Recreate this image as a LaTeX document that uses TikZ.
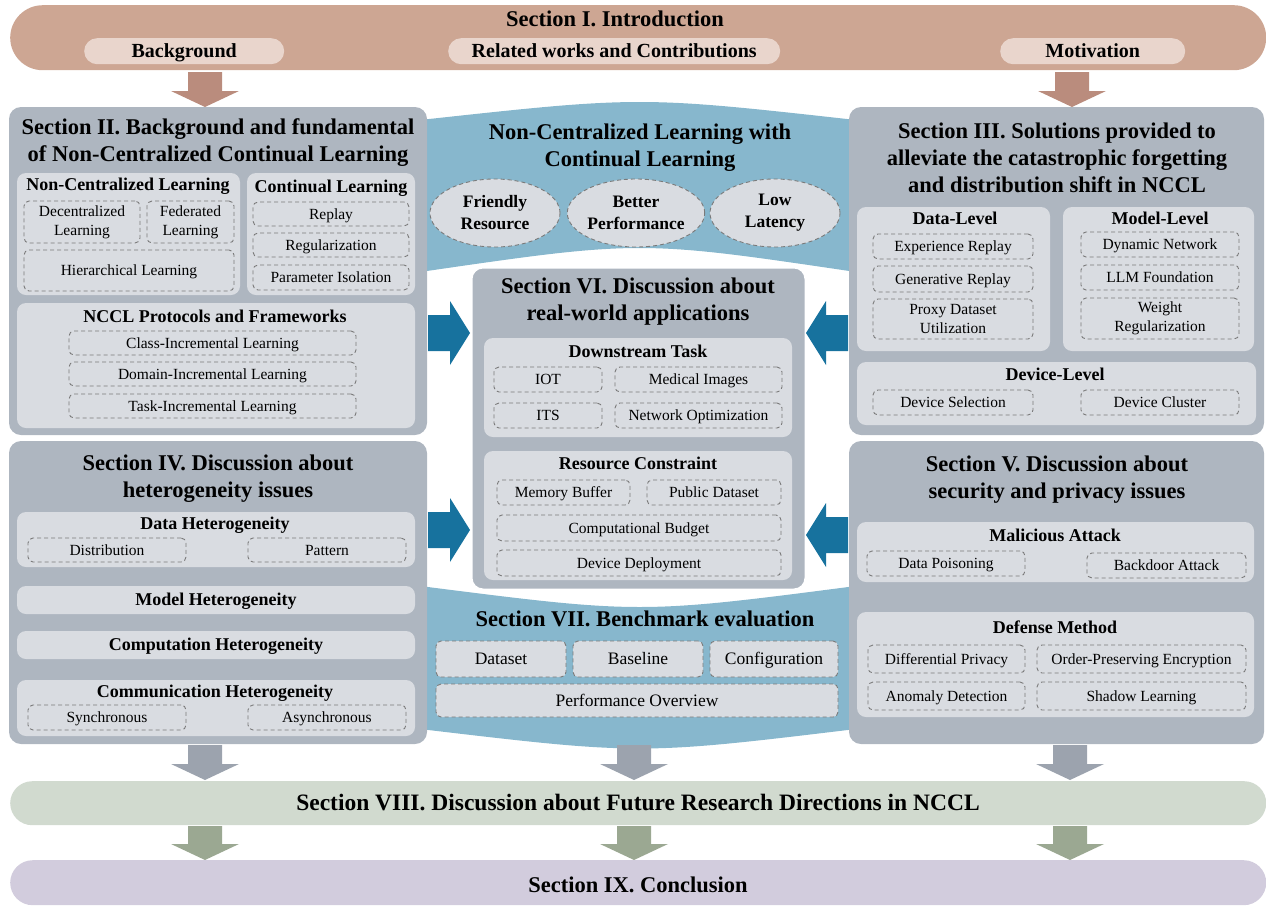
\documentclass[tikz,border=0pt]{standalone}
\usepackage{fontspec}
\setmainfont{Liberation Serif}
\usetikzlibrary{positioning,shapes.geometric}

\definecolor{introbrown}{HTML}{CDA693}
\definecolor{pillbrown}{HTML}{E9D5CC}
\definecolor{arrbrown}{HTML}{BA8C7D}
\definecolor{secgrey}{HTML}{AEB6C0}
\definecolor{boxlight}{HTML}{D9DCE1}
\definecolor{bandblue}{HTML}{87B7CD}
\definecolor{arrblue}{HTML}{17729E}
\definecolor{arrgrey}{HTML}{9CA3AE}
\definecolor{futgreen}{HTML}{D1DACF}
\definecolor{arrgreen}{HTML}{9BA892}
\definecolor{conclilac}{HTML}{D2CCDD}
\definecolor{dashgrey}{HTML}{7A7A7A}

% block arrows: down (x, ytop, ytip, colour) and sideways (xstart, xhead, xtip, y, colour)
\newcommand{\downblk}[4]{\fill[#4] ({#1-17},#2) -- ({#1+17},#2) -- ({#1+17},{#3-16}) -- ({#1+34},{#3-16}) -- (#1,#3) -- ({#1-34},{#3-16}) -- ({#1-17},{#3-16}) -- cycle;}
\newcommand{\sideblk}[5]{\fill[#5] (#1,{#4-18}) -- (#2,{#4-18}) -- (#2,{#4-32}) -- (#3,#4) -- (#2,{#4+32}) -- (#2,{#4+18}) -- (#1,{#4+18}) -- cycle;}

\tikzset{
  oneline/.style 2 args={text height=#1, text depth=#2},
  twolines/.style={text height=, text depth=},
  sec/.style 2 args={fill=secgrey, rounded corners=12pt, anchor=north west, inner sep=0pt, outer sep=0pt, minimum width=#1, minimum height=#2},
  grp/.style 2 args={fill=boxlight, rounded corners=9pt, anchor=north west, inner sep=0pt, outer sep=0pt, minimum width=#1, minimum height=#2, oneline={13.5pt}{1.6pt}, font=\bfseries\fontsize{18}{21}\selectfont},
  itm/.style 2 args={draw=dashgrey, dash pattern=on 4pt off 3pt, line width=0.9pt, rounded corners=5pt, fill=boxlight, anchor=north west, inner sep=0pt, outer sep=0pt, align=center, minimum width=#1, minimum height=#2, oneline={11.6pt}{1.4pt}, font=\fontsize{15.5}{19}\selectfont},
  bigitm/.style={oneline={13.1pt}{1.6pt}, font=\fontsize{17.5}{20}\selectfont},
  bar/.style 2 args={rounded corners=#2/2, anchor=north west, inner sep=0pt, minimum width=1256, minimum height=#2, fill=#1},
  pill/.style={fill=pillbrown, rounded corners=13pt, anchor=north west, inner sep=0pt, minimum height=26, oneline={15pt}{1.8pt}, font=\bfseries\fontsize{20}{22}\selectfont},
  ttl/.style={font=\bfseries\fontsize{22.5}{27}\selectfont, align=center},
  ttlone/.style={oneline={16.9pt}{2pt}, font=\bfseries\fontsize{22.5}{27}\selectfont},
  hd/.style={oneline={13.5pt}{1.6pt}, font=\bfseries\fontsize{18}{21}\selectfont, align=center},
  feat/.style={ellipse, draw=dashgrey, dash pattern=on 4pt off 3pt, line width=0.9pt, fill=boxlight, minimum width=130, minimum height=68, inner sep=0pt, align=center, font=\bfseries\fontsize{17.5}{22}\selectfont},
}

\begin{document}
\begin{tikzpicture}[x=1pt,y=-1pt]
\useasboundingbox (0,0) rectangle (1266,908);

%% Section I
\node[bar={introbrown}{65}] (intro) at (10,5) {};
\node[ttlone] (introt) at (615,19) {Section I. Introduction};
\node[pill, minimum width=200] (bg) at (84,38) {Background};
\node[pill, minimum width=332] (rw) at (448,38) {Related works and Contributions};
\node[pill, minimum width=185] (mot) at (1000,38) {Motivation};
\downblk{205}{72}{107}{arrbrown}
\downblk{1072}{72}{107}{arrbrown}

%% central bands
\fill[bandblue] (420,120) .. controls (640,96) .. (856,120) -- (856,272) .. controls (640,240) .. (420,272) -- cycle;
\fill[bandblue] (420,586) .. controls (640,614) .. (856,586) -- (856,729) .. controls (640,755) .. (420,729) -- cycle;

\node[ttl] (nclt) at (640,147.5) {Non-Centralized Learning with\\Continual Learning};
\node[feat] (fr) at (495,213) {Friendly\\Resource};
\node[feat] (bp) at (636,213) {Better\\Performance};
\node[feat] (ll) at (775,213) {Low\\Latency};

%% Section II
\node[sec={418}{328}] (s2) at (9,107) {};
\node[ttl] (s2t) at (218,143) {Section II. Background and fundamental\\of Non-Centralized Continual Learning};
\node[grp={223}{122}] (ncl) at (17,173) {};
\node[hd] at (128,185) {Non-Centralized Learning};
\node[itm={116}{42}, twolines] (dec) at (24,201) {Decentralized\\Learning};
\node[itm={87}{42}, twolines] (fed) at (147,201) {Federated\\Learning};
\node[itm={210}{41}] (hier) at (24,250) {Hierarchical Learning};
\node[grp={168}{122}] (cl) at (247,173) {};
\node[hd] at (331,187) {Continual Learning};
\node[itm={156}{24}] (rep) at (253,202) {Replay};
\node[itm={156}{24}] (reg) at (253,233) {Regularization};
\node[itm={156}{25}] (piso) at (253,265) {Parameter Isolation};
\node[grp={398}{125}] (proto) at (17,303) {};
\node[hd] at (215,317) {NCCL Protocols and Frameworks};
\node[itm={287}{24}] (cil) at (69,331) {Class-Incremental Learning};
\node[itm={287}{24}] (dil) at (69,362) {Domain-Incremental Learning};
\node[itm={287}{24}] (til) at (69,394) {Task-Incremental Learning};

%% Section III
\node[sec={415}{328}] (s3) at (849,107) {};
\node[ttl] (s3t) at (1057,157.5) {Section III. Solutions provided to\\alleviate the catastrophic forgetting\\and distribution shift in NCCL};
\node[grp={193}{144}] (dlev) at (857,207) {};
\node[hd] at (955,219) {Data-Level};
\node[itm={160}{25}] (er) at (873,234) {Experience Replay};
\node[itm={160}{26}] (gr) at (873,266) {Generative Replay};
\node[itm={160}{40}, twolines] (pdu) at (873,299) {Proxy Dataset\\Utilization};
\node[grp={191}{144}] (mlev) at (1063,207) {};
\node[hd] at (1160,219) {Model-Level};
\node[itm={158}{25}] (dn) at (1081,232) {Dynamic Network};
\node[itm={158}{25}] (llm) at (1081,265) {LLM Foundation};
\node[itm={158}{41}, twolines] (wr) at (1081,298) {Weight\\Regularization};
\node[grp={399}{63}] (devl) at (857,362) {};
\node[hd] at (1055,375) {Device-Level};
\node[itm={160}{25}] (dsel) at (873,390) {Device Selection};
\node[itm={158}{25}] (dclu) at (1081,390) {Device Cluster};

%% Section IV
\node[sec={418}{303}] (s4) at (9,441) {};
\node[ttl] (s4t) at (218,478.5) {Section IV. Discussion about\\heterogeneity issues};
\node[grp={398}{55}] (dh) at (17,512) {};
\node[hd] at (215,524) {Data Heterogeneity};
\node[itm={158}{24}] (dist) at (28,538) {Distribution};
\node[itm={158}{24}] (pat) at (248,538) {Pattern};
\node[grp={398}{28}] (mh) at (17,586) {Model Heterogeneity};
\node[grp={398}{28}] (chg) at (17,631) {Computation Heterogeneity};
\node[grp={398}{56}] (comm) at (17,680) {};
\node[hd] at (215,692) {Communication Heterogeneity};
\node[itm={158}{25}] (sync) at (28,705) {Synchronous};
\node[itm={158}{25}] (async) at (248,705) {Asynchronous};

%% Section V
\node[sec={415}{303}] (s5) at (849,441) {};
\node[ttl] (s5t) at (1057,480) {Section V. Discussion about\\security and privacy issues};
\node[grp={397}{60}] (mal) at (857,522) {};
\node[hd] at (1055,536) {Malicious Attack};
\node[itm={158}{25}] (dpois) at (867,551) {Data Poisoning};
\node[itm={159}{25}] (bdoor) at (1087,553) {Backdoor Attack};
\node[grp={397}{105}] (def) at (857,612) {};
\node[hd] at (1055,628) {Defense Method};
\node[itm={157}{28}] (difp) at (868,645) {Differential Privacy};
\node[itm={209}{28}] (ope) at (1037,645) {Order-Preserving Encryption};
\node[itm={157}{28}] (anom) at (868,682) {Anomaly Detection};
\node[itm={209}{28}] (shad) at (1037,682) {Shadow Learning};

%% Section VI
\node[sec={335}{323}, draw=white, line width=3pt] (s6) at (471,267) {};
\node[ttl] (s6t) at (638,302) {Section VI. Discussion about\\real-world applications};
\node[grp={308}{99}] (down) at (484,338) {};
\node[hd] at (638,352) {Downstream Task};
\node[itm={108}{25}] (iot) at (494,367) {IOT};
\node[itm={167}{25}] (med) at (615,367) {Medical Images};
\node[itm={108}{25}] (its) at (494,403) {ITS};
\node[itm={167}{25}] (netopt) at (615,403) {Network Optimization};
\node[grp={308}{129}] (res) at (484,451) {};
\node[hd] at (638,464) {Resource Constraint};
\node[itm={133}{25}] (mem) at (497,480) {Memory Buffer};
\node[itm={134}{25}] (pub) at (647,480) {Public Dataset};
\node[itm={284}{26}] (cbud) at (497,515) {Computational Budget};
\node[itm={284}{26}] (ddep) at (497,550) {Device Deployment};

\sideblk{428}{450}{470}{333}{arrblue}
\sideblk{428}{450}{470}{530}{arrblue}
\sideblk{848}{826}{806}{333}{arrblue}
\sideblk{848}{826}{806}{535}{arrblue}

%% Section VII
\node[ttlone] (s7t) at (645,619) {Section VII. Benchmark evaluation};
\node[itm={130}{36}, bigitm] (dset) at (436,641) {Dataset};
\node[itm={130}{36}, bigitm] (base) at (573,641) {Baseline};
\node[itm={128}{36}, bigitm] (conf) at (710,641) {Configuration};
\node[itm={402}{33}, bigitm] (perf) at (436,684) {Performance Overview};

%% Sections VIII and IX
\downblk{205}{745}{780}{arrgrey}
\downblk{634}{745}{780}{arrgrey}
\downblk{1070}{745}{780}{arrgrey}
\node[bar={futgreen}{44}] (fut) at (10,781) {};
\node[ttlone, oneline={17.6pt}{2.1pt}, font=\bfseries\fontsize{23.5}{27}\selectfont] (futt) at (638,803) {Section VIII. Discussion about Future Research Directions in NCCL};
\downblk{205}{826}{860}{arrgreen}
\downblk{634}{826}{860}{arrgreen}
\downblk{1070}{826}{860}{arrgreen}
\node[bar={conclilac}{45}] (conc) at (10,860) {};
\node[ttlone] (conct) at (638,885) {Section IX. Conclusion};
\end{tikzpicture}
\end{document}
